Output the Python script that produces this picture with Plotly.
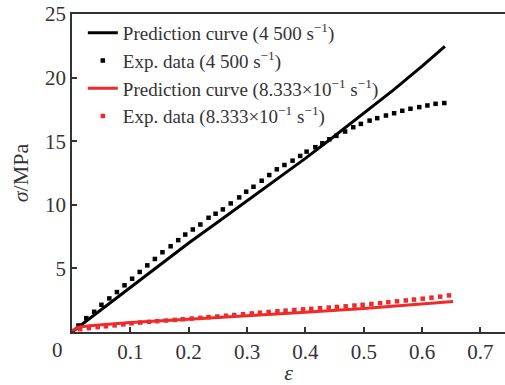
import plotly.graph_objects as go

# Prediction curve, 4500 s^-1
pred_fast_x = [0.0, 0.05, 0.1, 0.15, 0.2, 0.25, 0.3, 0.35, 0.4, 0.44, 0.5, 0.55, 0.6, 0.639]
pred_fast_y = [0.0, 1.75, 3.5, 5.25, 7.0, 8.65, 10.3, 11.95, 13.65, 15.05, 17.2, 19.0, 20.9, 22.46]

# Experimental data, 4500 s^-1
exp_fast_x = [0.011, 0.0245, 0.038, 0.0505, 0.064, 0.077, 0.090, 0.103, 0.116, 0.129, 0.142, 0.155,
              0.169, 0.182, 0.194, 0.207, 0.220, 0.234, 0.246, 0.2585, 0.272, 0.2865, 0.2985, 0.311,
              0.325, 0.338, 0.351, 0.364, 0.378, 0.391, 0.402, 0.417, 0.429, 0.441, 0.453, 0.468,
              0.482, 0.495, 0.510, 0.523, 0.538, 0.552, 0.566, 0.580, 0.595, 0.609, 0.623, 0.638]
exp_fast_y = [0.51, 1.09, 1.59, 2.14, 2.64, 3.14, 3.67, 4.19, 4.72, 5.24, 5.74, 6.27,
              6.74, 7.22, 7.66, 8.06, 8.45, 8.98, 9.3, 9.64, 10.11, 10.58, 11.03, 11.42,
              11.89, 12.34, 12.79, 13.13, 13.47, 13.84, 14.18, 14.53, 14.84, 15.15, 15.42, 15.76,
              16.1, 16.36, 16.62, 16.81, 17.02, 17.2, 17.39, 17.55, 17.68, 17.81, 17.94, 18.0]

# Prediction curve, 8.333e-1 s^-1
pred_slow_x = [0.0, 0.01, 0.03, 0.1, 0.2, 0.3, 0.4, 0.5, 0.6, 0.653]
pred_slow_y = [0.1, 0.38, 0.5, 0.75, 1.0, 1.25, 1.55, 1.85, 2.2, 2.4]

# Experimental data, 8.333e-1 s^-1
exp_slow_x = [0.014, 0.029, 0.044, 0.058, 0.073, 0.088, 0.102, 0.117, 0.132, 0.146, 0.161, 0.176,
              0.190, 0.205, 0.220, 0.234, 0.249, 0.264, 0.278, 0.293, 0.308, 0.322, 0.337, 0.352,
              0.366, 0.381, 0.396, 0.410, 0.425, 0.440, 0.454, 0.469, 0.484, 0.498, 0.513, 0.528,
              0.542, 0.557, 0.572, 0.586, 0.601, 0.616, 0.631, 0.646]
exp_slow_y = [0.22, 0.3, 0.38, 0.45, 0.52, 0.6, 0.68, 0.74, 0.8, 0.85, 0.9, 0.95,
              1.0, 1.06, 1.11, 1.17, 1.22, 1.28, 1.34, 1.4, 1.46, 1.52, 1.58, 1.63,
              1.68, 1.73, 1.78, 1.82, 1.87, 1.92, 1.97, 2.02, 2.08, 2.14, 2.2, 2.27,
              2.34, 2.41, 2.48, 2.55, 2.62, 2.7, 2.78, 2.88]

x_ticks = [0.1, 0.2, 0.3, 0.4, 0.5, 0.6, 0.7]
y_ticks = [5, 10, 15, 20, 25]

names = [
    "Prediction curve (4 500 s<sup>−1</sup>)",
    "Exp. data (4 500 s<sup>−1</sup>)",
    "Prediction curve (8.333×10<sup>−1</sup> s<sup>−1</sup>)",
    "Exp. data (8.333×10<sup>−1</sup> s<sup>−1</sup>)",
]

BLACK = "#000000"
RED = "#ee2a2a"
FONT = "Liberation Serif"
TXT = "#333333"

fig = go.Figure()
fig.add_trace(go.Scatter(x=pred_fast_x, y=pred_fast_y, mode="lines", name=names[0],
                         line=dict(color=BLACK, width=3)))
fig.add_trace(go.Scatter(x=exp_fast_x, y=exp_fast_y, mode="markers", name=names[1],
                         marker=dict(color=BLACK, symbol="square", size=4.5)))
fig.add_trace(go.Scatter(x=pred_slow_x, y=pred_slow_y, mode="lines", name=names[2],
                         line=dict(color=RED, width=3)))
fig.add_trace(go.Scatter(x=exp_slow_x, y=exp_slow_y, mode="markers", name=names[3],
                         marker=dict(color=RED, symbol="square", size=4.5)))

axis_common = dict(
    showline=True, linecolor=TXT, linewidth=1.5,
    ticks="inside", ticklen=5, tickwidth=1.5, tickcolor=TXT,
    showgrid=False, zeroline=False,
    tickfont=dict(family=FONT, size=21, color=TXT),
)

fig.update_layout(
    width=505, height=385,
    margin=dict(l=72, r=0, t=14, b=53),
    paper_bgcolor="white", plot_bgcolor="white",
    font=dict(family=FONT, color=TXT),
    showlegend=True,
    legend=dict(x=0.025, y=1.0, xanchor="left", yanchor="top",
                bgcolor="rgba(0,0,0,0)", font=dict(family=FONT, size=19, color=TXT),
                itemwidth=30),
    xaxis=dict(range=[0, 0.742], tickvals=x_ticks, ticktext=[str(v) for v in x_ticks],
               mirror=True,
               title=dict(text="<i>ε</i>", font=dict(family=FONT, size=22, color=TXT),
                          standoff=6),
               **axis_common),
    yaxis=dict(range=[0, 25], tickvals=y_ticks, ticktext=[str(v) for v in y_ticks],
               title=dict(text="<i>σ</i>/MPa", font=dict(family=FONT, size=22, color=TXT),
                          standoff=10),
               **axis_common),
)

fig.add_annotation(x=0, y=0, xref="x", yref="y", text="0", showarrow=False,
                   xanchor="right", yanchor="top", xshift=-7, yshift=-4,
                   font=dict(family=FONT, size=21, color=TXT))

fig.write_html("out.html")
